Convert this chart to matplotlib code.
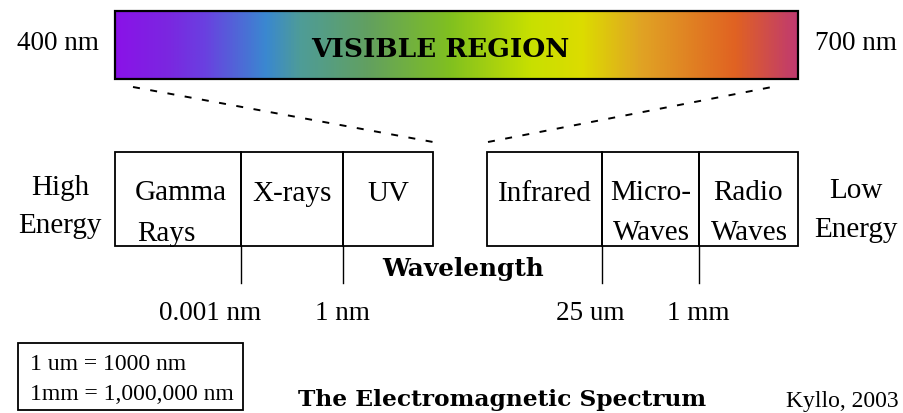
import numpy as np
import matplotlib
matplotlib.use('Agg')
import matplotlib.pyplot as plt
from matplotlib.colors import LinearSegmentedColormap
from matplotlib.patches import Rectangle

W, H = 904, 413

# spectrum colour stops (fraction along the visible bar, colour)
spectrum_stops = [0.0, 0.08, 0.13, 0.22, 0.27, 0.37, 0.49, 0.61, 0.685, 0.77, 0.91, 1.0]
spectrum_colors = ['#8a12e8', '#7a28e0', '#6a40e0', '#3a88d0', '#4e9c98', '#62a060',
                   '#80c020', '#c8e000', '#dcdc00', '#e0a424', '#e06222', '#c03a70']

# bands: label lines per cell, cell edges
left_bands = [['Gamma', 'Rays'], ['X-rays'], ['UV']]
left_edges = [115, 241, 343, 433]
right_bands = [['Infrared'], ['Micro-', 'Waves'], ['Radio', 'Waves']]
right_edges = [487, 602, 699, 798]

# wavelength ticks
tick_x = [241, 343, 602, 699]
tick_labels = ['0.001 nm', '1 nm', '25 um', '1 mm']
tick_label_x = [210, 342, 590, 698]

units = ['1 um = 1000 nm', '1mm = 1,000,000 nm']

serif = 'Liberation Serif'
bold = 'DejaVu Serif'
fs = 21

fig = plt.figure(figsize=(W / 100, H / 100), dpi=100)
ax = fig.add_axes([0, 0, 1, 1])
ax.set_xlim(0, W)
ax.set_ylim(H, 0)
ax.axis('off')


def label(x, y, s, ha='center', size=fs, **kw):
    ax.text(x, y, s, family=serif, fontsize=size, ha=ha, va='baseline', **kw)


# visible region bar
cmap = LinearSegmentedColormap.from_list('vis', list(zip(spectrum_stops, spectrum_colors)))
grad = np.linspace(0, 1, 512).reshape(1, -1)
ax.imshow(grad, cmap=cmap, aspect='auto', extent=[115, 798, 79, 11], zorder=1)
ax.add_patch(Rectangle((115, 11), 798 - 115, 68, fill=False, ec='black', lw=1.6, zorder=2))
ax.text(440, 57, 'VISIBLE REGION', family=bold, weight='bold', fontsize=19,
        ha='center', va='baseline', zorder=3)
label(58, 50, '400 nm', size=19.5)
label(856, 50, '700 nm', size=19.5)

# dashed zoom lines
dash = (0, (3.6, 5.4))
ax.plot([133, 433], [87, 142], color='black', lw=1.4, linestyle=dash)
ax.plot([488, 772], [142, 87], color='black', lw=1.4, linestyle=dash)

# band boxes
top, bot = 152, 246
for edges, names in [(left_edges, left_bands), (right_edges, right_bands)]:
    for i, lines in enumerate(names):
        x0, x1 = edges[i], edges[i + 1]
        ax.add_patch(Rectangle((x0, top), x1 - x0, bot - top, fill=False, ec='black', lw=1.3))
        if lines[0] == 'Gamma':
            label(x0 + 20, 200, lines[0], ha='left')
            label(x0 + 22, 241, lines[1], ha='left')
        elif len(lines) == 2:
            label((x0 + x1) / 2, 200, lines[0])
            label((x0 + x1) / 2 + 1, 240, lines[1])
        else:
            label((x0 + x1) / 2, 201, lines[0])

label(60, 195, 'High')
label(60, 233, 'Energy')
label(856, 198, 'Low')
label(856, 237, 'Energy')

# wavelength ticks
for x in tick_x:
    ax.plot([x, x], [bot, 283], color='black', lw=1.0)
for x, lab in zip(tick_label_x, tick_labels):
    label(x, 320, lab, size=19.5)
ax.text(463, 276, 'Wavelength', family=bold, weight='bold', fontsize=17.8,
        ha='center', va='baseline')

# unit box
ax.add_patch(Rectangle((18, 343), 225, 67, fill=False, ec='black', lw=1.3))
label(30, 370, units[0], ha='left', size=17)
label(30, 400, units[1], ha='left', size=17)

ax.text(502, 406, 'The Electromagnetic Spectrum', family=bold, weight='bold', fontsize=16.8,
        ha='center', va='baseline')
label(899, 407, 'Kyllo, 2003', ha='right', size=17)

fig.savefig('out.png', dpi=100)
